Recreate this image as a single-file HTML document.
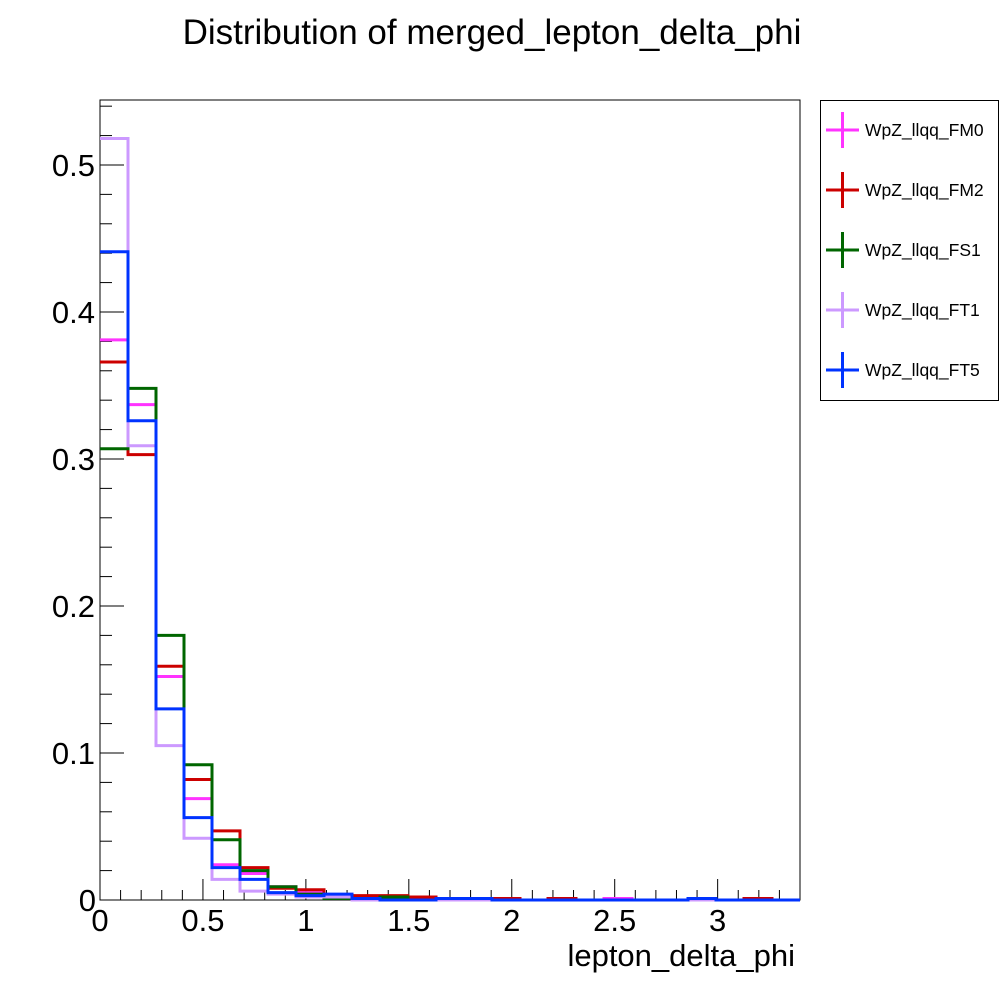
<!DOCTYPE html>
<html><head><meta charset="utf-8"><style>
body{margin:0;background:#fff}
svg text{font-family:"Liberation Sans",sans-serif}
</style></head><body>
<svg id="c" width="1000" height="1000" xmlns="http://www.w3.org/2000/svg">
<rect width="1000" height="1000" fill="#fff"/>
<text x="492" y="44" font-size="35" text-anchor="middle">Distribution of merged_lepton_delta_phi</text>
<rect x="100" y="100" width="700" height="800" fill="none" stroke="#000" stroke-width="1"/>
<g id="ticks"></g>
<g id="series"></g>
<text x="795" y="966" font-size="31" text-anchor="end">lepton_delta_phi</text>
<rect x="820.5" y="100.5" width="178" height="300" fill="#fff" stroke="#000"/>
<g id="legend"></g>
</svg>
<script>
const names=["WpZ_llqq_FM0","WpZ_llqq_FM2","WpZ_llqq_FS1","WpZ_llqq_FT1","WpZ_llqq_FT5"];
const colors=["#ff33ff","#cc0000","#006600","#cc99ff","#0033ff"];
const nBins=25;
const xMax=3.4;
const fm0=[0.381,0.337,0.152,0.069,0.024,0.018,0.009,0.005,0.003,0,0,0,0,0,0,0,0,0,0.001,0,0,0,0,0,0];
const fm2=[0.366,0.303,0.159,0.082,0.047,0.022,0.008,0.007,0.001,0.003,0.003,0.002,0,0,0.001,0,0.001,0,0,0,0,0,0,0.001,0];
const fs1=[0.307,0.348,0.180,0.092,0.041,0.020,0.009,0.004,0.001,0,0.002,0,0,0.001,0,0,0,0,0,0,0,0,0,0,0];
const ft1=[0.518,0.309,0.105,0.042,0.014,0.006,0.004,0.002,0.002,0,0,0,0,0,0,0,0,0,0,0,0,0,0,0,0];
const ft5=[0.441,0.326,0.130,0.056,0.022,0.014,0.005,0.003,0.004,0.001,0,0,0.001,0.001,0,0,0,0,0,0,0,0.001,0,0,0];
const seriesVals=[fm0,fm2,fs1,ft1,ft5];
const xTicks=["0","0.5","1","1.5","2","2.5","3"];
const yTicks=["0","0.1","0.2","0.3","0.4","0.5"];
const NS="http://www.w3.org/2000/svg";
const X=v=>100+v/xMax*700;
const Y=v=>900-v/0.5442*800;
function mk(tag,at,parent){const e=document.createElementNS(NS,tag);for(const k in at)e.setAttribute(k,at[k]);parent.appendChild(e);return e;}
const tg=document.getElementById('ticks');
for(let i=1;i*0.1<xMax;i++){const v=i*0.1;const maj=i%5==0;
 const t=mk('line',{x1:X(v),x2:X(v),y1:900,y2:maj?879:890,stroke:'#000'},tg);
 
 }
xTicks.forEach(s=>{const t=mk('text',{x:X(+s),y:931,'font-size':31,'text-anchor':'middle'},tg);t.textContent=s;
 
 });
for(let i=1;i*0.02<0.544;i++){const v=i*0.02;const maj=i%5==0;
 const t=mk('line',{x1:100,x2:maj?124:112,y1:Y(v),y2:Y(v),stroke:'#000'},tg);
 
 }
yTicks.forEach(s=>{const t=mk('text',{x:s=="0"?96:95,y:Y(+s)+11,'font-size':31,'text-anchor':'end'},tg);t.textContent=s;
 
 });
const sg=document.getElementById('series');
const bw=xMax/nBins;
seriesVals.forEach((vals,k)=>{let d='M'+X(0)+','+Y(vals[0]);
 vals.forEach((v,i)=>{d+=' L'+X(i*bw)+','+Y(v)+' L'+X((i+1)*bw)+','+Y(v);});
 const p=mk('path',{d:d,fill:'none',stroke:colors[k],'stroke-width':3},sg);
 
 });
const lg=document.getElementById('legend');
names.forEach((n,k)=>{const y=130+k*60;
 const g=mk('g',{},lg);
 
 
 mk('line',{x1:826,x2:859,y1:y,y2:y,stroke:colors[k],'stroke-width':3},g);
 mk('line',{x1:842.5,x2:842.5,y1:y-18,y2:y+18,stroke:colors[k],'stroke-width':3},g);
 const t=mk('text',{x:865,y:y+6,'font-size':17.5},g);t.textContent=n;});
</script>
</body></html>
